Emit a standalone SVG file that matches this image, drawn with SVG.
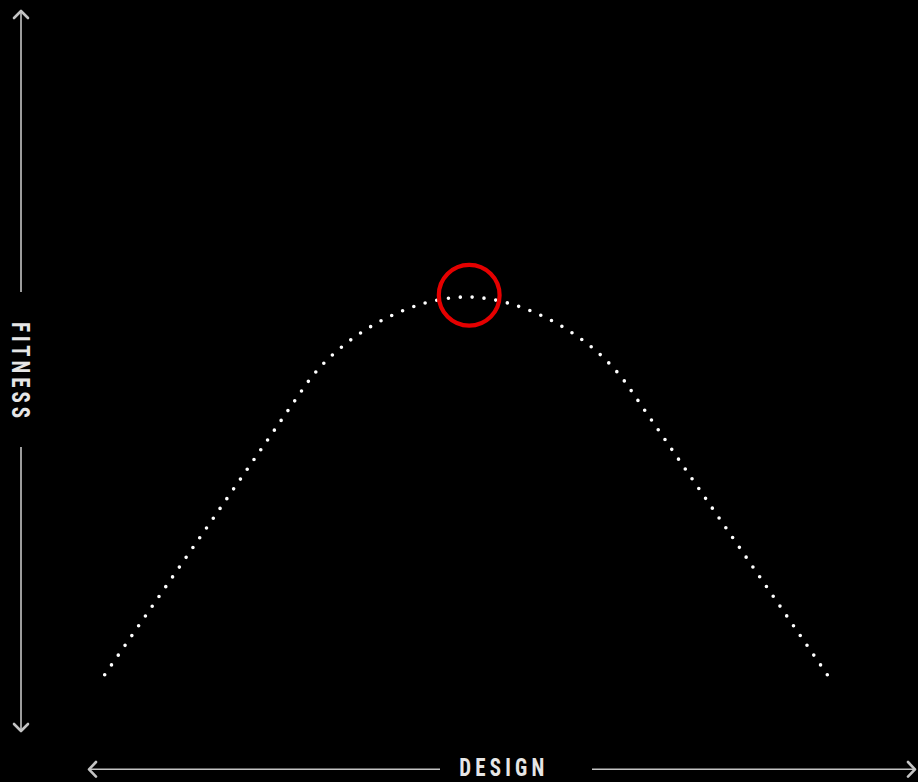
<svg xmlns="http://www.w3.org/2000/svg" width="918" height="782" viewBox="0 0 918 782">
  <style>
    .axis { stroke: #c4c4c4; stroke-width: 1.6; fill: none; }
    .head { stroke: #c4c4c4; stroke-width: 2.6; fill: none; stroke-linecap: round; stroke-linejoin: round; }
    .label { font-family: "Liberation Sans Narrow", "Roboto Condensed", "Liberation Sans", "DejaVu Sans", sans-serif; font-size: 25.5px; font-weight: bold; fill: #e6e6e6; }
    .curve { stroke: #ffffff; stroke-width: 3.6; fill: none; stroke-linecap: round; stroke-dasharray: 0 1; }
    .marker { stroke: #e50000; stroke-width: 4.2; fill: none; }
  </style>
  <rect x="0" y="0" width="918" height="782" fill="#000000"/>

  <g id="connectors">
    <g id="y-axis">
      <line class="axis" x1="21" y1="11" x2="21" y2="292"/>
      <line class="axis" x1="21" y1="447" x2="21" y2="730"/>
      <polyline class="head" points="14,18 21,11 28,18"/>
      <polyline class="head" points="14,724 21,731 28,724"/>
    </g>
    <g id="x-axis">
      <line class="axis" x1="89" y1="769.3" x2="440" y2="769.3"/>
      <line class="axis" x1="592" y1="769.3" x2="915" y2="769.3"/>
      <polyline class="head" points="96,762 89,769.3 96,776.6"/>
      <polyline class="head" points="908,762 915,769.3 908,776.6"/>
    </g>
  </g>

  <g id="fitness-label">
    <text class="label" transform="translate(11.5,370) rotate(90) scale(0.82,1)" x="0" y="0" text-anchor="middle" textLength="117" lengthAdjust="spacing">FITNESS</text>
  </g>
  <g id="design-label">
    <text class="label" transform="translate(501.8,776.3) scale(0.82,1)" x="0" y="0" text-anchor="middle" textLength="103.7" lengthAdjust="spacing">DESIGN</text>
  </g>

  <g id="fitness-curve">
    <path class="curve" pathLength="91" d="M104.7,674.7 L305,386 C340,335.6 410,297 466.5,297 C523,297 593,335.6 628,386 L827.3,674.7"/>
  </g>

  <g id="optimum">
    <circle class="marker" cx="469.2" cy="295.2" r="30.4"/>
  </g>
</svg>
